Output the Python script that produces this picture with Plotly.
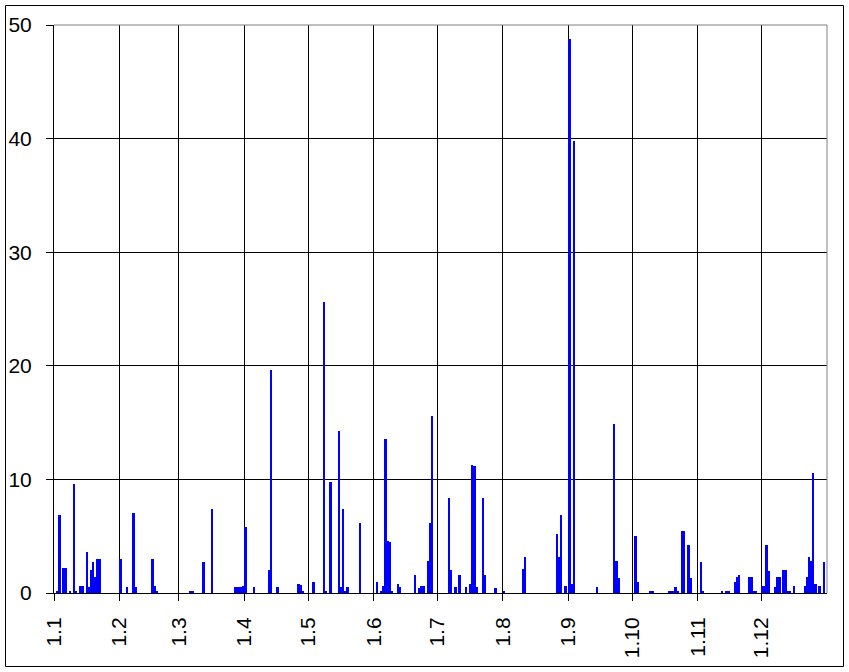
import plotly.graph_objects as go

YEAR = 2001
month_labels = ["1.1", "1.2", "1.3", "1.4", "1.5", "1.6", "1.7", "1.8", "1.9", "1.10", "1.11", "1.12"]

jan_days = [2, 3, 5, 6, 8, 10, 11, 13, 14, 16, 17, 18, 19, 20, 21, 22]
jan_mm = [0.2, 6.9, 2.2, 2.2, 0.2, 9.6, 0.2, 0.6, 0.6, 3.6, 0.5, 2.0, 2.7, 1.4, 3.0, 3.0]
feb_days = [1, 4, 7, 8, 16, 17, 18]
feb_mm = [3.0, 0.5, 7.0, 0.5, 3.0, 0.6, 0.2]
mar_days = [6, 7, 12, 16, 27, 28, 29, 30, 31]
mar_mm = [0.2, 0.2, 2.7, 7.4, 0.5, 0.5, 0.5, 0.5, 0.6]
apr_days = [1, 5, 12, 13, 16, 26, 27, 28]
apr_mm = [5.8, 0.5, 2.0, 19.6, 0.5, 0.8, 0.7, 0.2]
may_days = [3, 8, 9, 11, 15, 16, 17, 18, 19, 25]
may_mm = [1.0, 25.6, 0.2, 9.8, 14.3, 0.5, 7.4, 0.2, 0.5, 6.2]
jun_days = [2, 4, 5, 6, 7, 8, 9, 12, 13, 20, 22, 23, 24, 26, 27, 28]
jun_mm = [1.0, 0.2, 0.6, 13.6, 4.6, 4.5, 0.2, 0.8, 0.5, 1.6, 0.4, 0.6, 0.6, 2.8, 6.2, 15.6]
jul_days = [6, 7, 9, 11, 14, 16, 17, 18, 19, 22, 23, 28]
jul_mm = [8.4, 2.0, 0.5, 1.6, 0.5, 0.8, 11.3, 11.2, 0.5, 8.4, 1.6, 0.4]
aug_days = [1, 10, 11, 26, 27, 28, 30]
aug_mm = [0.2, 2.1, 3.2, 5.2, 3.2, 6.9, 0.6]
sep_days = [1, 2, 3, 14, 22, 23, 24]
sep_mm = [48.8, 0.8, 39.8, 0.5, 14.9, 2.8, 1.3]
oct_days = [2, 3, 9, 10, 18, 19, 20, 21, 22, 24, 25, 27, 28]
oct_mm = [5.0, 1.0, 0.2, 0.2, 0.2, 0.2, 0.2, 0.5, 0.2, 5.5, 5.5, 4.2, 1.3]
nov_days = [2, 3, 12, 14, 15, 18, 19, 20, 25, 26, 27, 28]
nov_mm = [2.7, 0.2, 0.2, 0.2, 0.2, 1.0, 1.4, 1.6, 1.4, 1.4, 0.2, 0.2]
dec_days = [1, 2, 3, 4, 7, 8, 9, 11, 12, 13, 14, 16, 21, 22, 23, 24, 25, 26, 28, 30]
dec_mm = [0.6, 0.6, 4.2, 1.9, 0.5, 1.4, 1.4, 2.0, 2.0, 0.2, 0.2, 0.6, 0.6, 1.4, 3.2, 2.8, 10.6, 0.8, 0.6, 2.7]

months_days = [jan_days, feb_days, mar_days, apr_days, may_days, jun_days,
               jul_days, aug_days, sep_days, oct_days, nov_days, dec_days]
months_mm = [jan_mm, feb_mm, mar_mm, apr_mm, may_mm, jun_mm,
             jul_mm, aug_mm, sep_mm, oct_mm, nov_mm, dec_mm]

xs, ys = [], []
for m, (days, vals) in enumerate(zip(months_days, months_mm), start=1):
    for d, v in zip(days, vals):
        xs.append(f"{YEAR}-{m:02d}-{d:02d} 12:00")
        ys.append(v)

month_starts = [f"{YEAR}-{m:02d}-01" for m in range(1, 13)]

W, H = 849, 672
L, R, T, B = 54, 827, 25, 593
FONT = "Liberation Sans, Arial, sans-serif"

fig = go.Figure(go.Bar(
    x=xs, y=ys, width=86400000 * 1.15,
    marker=dict(color="#0000FF", line=dict(width=0)),
    showlegend=False,
))

def px2paper_x(p):
    return (p - L) / (R - L)

def px2paper_y(p):
    return (B - p) / (B - T)

fig.update_layout(
    width=W, height=H,
    margin=dict(l=L, r=W - R, t=T, b=H - B, pad=0),
    paper_bgcolor="white", plot_bgcolor="white",
    font=dict(family=FONT, size=21, color="black"),
    bargap=0,
    shapes=[
        dict(type="line", xref="paper", yref="paper", x0=0, x1=1, y0=1, y1=1,
             line=dict(color="#808080", width=1), layer="above"),
        dict(type="line", xref="paper", yref="paper", x0=1, x1=1, y0=0, y1=1,
             line=dict(color="#808080", width=1), layer="above"),
        dict(type="rect", xref="paper", yref="paper",
             x0=px2paper_x(5.5), x1=px2paper_x(843.5),
             y0=px2paper_y(666.5), y1=px2paper_y(5.5),
             line=dict(color="black", width=1), fillcolor="rgba(0,0,0,0)"),
    ],
)

fig.update_xaxes(
    type="date", range=[f"{YEAR}-01-01", f"{YEAR + 1}-01-01"],
    tickmode="array", tickvals=month_starts, ticktext=month_labels,
    tickangle=-90, ticks="outside", ticklen=7, tickcolor="black", tickwidth=1,
    showgrid=True, gridcolor="black", gridwidth=1,
    showline=True, linecolor="black", linewidth=1,
    ticklabelstandoff=8, zeroline=False, automargin=False,
    tickfont=dict(family=FONT, size=21, color="black"),
)
fig.update_yaxes(
    range=[0, 50], tickmode="linear", tick0=0, dtick=10,
    ticks="outside", ticklen=7, tickcolor="black", tickwidth=1,
    showgrid=True, gridcolor="black", gridwidth=1,
    showline=True, linecolor="black", linewidth=1,
    ticklabelstandoff=10, zeroline=False, automargin=False,
    tickfont=dict(family=FONT, size=21, color="black"),
)

fig.write_html("out.html", config={"displayModeBar": False},
               post_script="document.body.style.margin='0px';")
